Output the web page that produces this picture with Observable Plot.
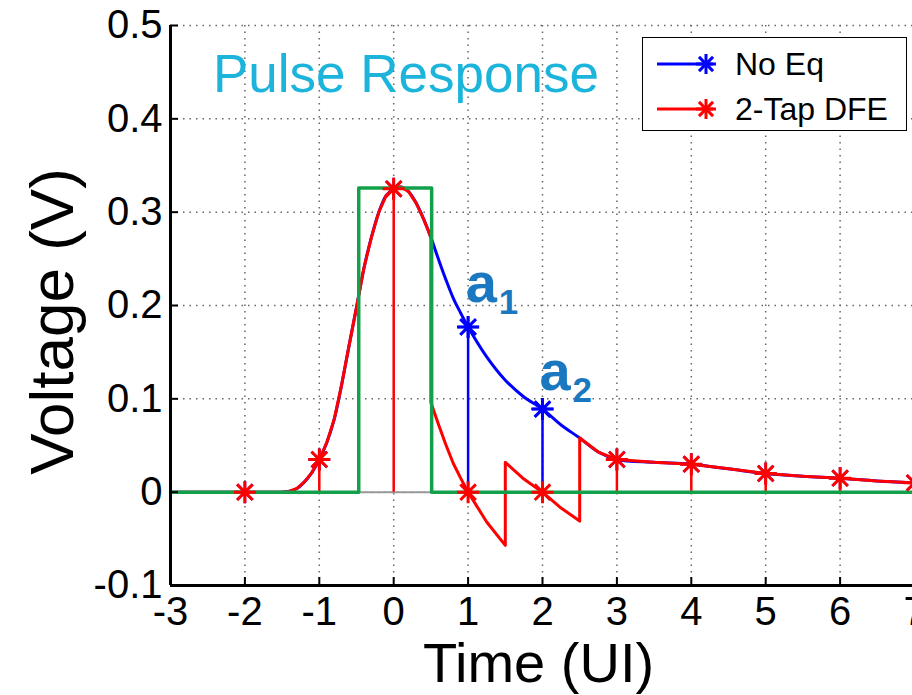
<!DOCTYPE html>
<html>
<head>
<meta charset="utf-8">
<script src="https://cdn.jsdelivr.net/npm/d3@7"></script>
<script src="https://cdn.jsdelivr.net/npm/@observablehq/plot@0.6"></script>
<style>
  html, body { margin: 0; padding: 0; background: #fff; }
  #wrap { position: relative; width: 912px; height: 695px; overflow: hidden; }
  #title { position: absolute; left: 213px; top: 43px; font: 53px "Liberation Sans", Arial, sans-serif; color: #1db4dc; white-space: nowrap; }
  #legend { position: absolute; left: 642px; top: 37px; width: 263px; height: 92px; border: 1.5px solid #000; background: #fff; }
</style>
</head>
<body>
<div id="wrap">
  <div id="chart"></div>
  <div id="title">Pulse Response</div>
  <div id="legend"></div>
</div>
<script>
// ---- data ----
const xTicks = [-3, -2, -1, 0, 1, 2, 3, 4, 5, 6, 7];
const yTicks = [-0.1, 0, 0.1, 0.2, 0.3, 0.4, 0.5];
const yTickLabels = ["-0.1", "0", "0.1", "0.2", "0.3", "0.4", "0.5"];

// continuous pulse response without equalization
const noEqT = [-3, -2, -1.5, -1.4, -1.3, -1.2, -1.1, -1, -0.9, -0.8, -0.7, -0.6, -0.5, -0.4, -0.3, -0.2, -0.1, 0, 0.1, 0.2, 0.3, 0.4, 0.5, 0.6, 0.7, 0.8, 0.9, 1, 1.25, 1.5, 1.75, 2, 2.25, 2.5, 2.75, 3, 3.5, 4, 4.5, 5, 5.5, 6, 6.5, 7];
const noEqV = [0, 0, 0, 0.001, 0.004, 0.011, 0.021, 0.035, 0.053, 0.078, 0.115, 0.157, 0.198, 0.24, 0.273, 0.3, 0.318, 0.325, 0.327, 0.322, 0.31, 0.293, 0.273, 0.25, 0.228, 0.208, 0.192, 0.177, 0.145, 0.12, 0.102, 0.089, 0.072, 0.058, 0.043, 0.035, 0.032, 0.030, 0.025, 0.020, 0.017, 0.015, 0.012, 0.010];

// pulse response with 2-tap DFE
const dfeT = [-3, -2, -1.5, -1.4, -1.3, -1.2, -1.1, -1, -0.9, -0.8, -0.7, -0.6, -0.5, -0.4, -0.3, -0.2, -0.1, 0, 0.1, 0.2, 0.3, 0.4, 0.5, 0.5, 0.6, 0.7, 0.8, 0.9, 1, 1.25, 1.5, 1.5, 1.75, 2, 2.25, 2.5, 2.5, 2.75, 3, 3.5, 4, 4.5, 5, 5.5, 6, 6.5, 7];
const dfeV = [0, 0, 0, 0.001, 0.004, 0.011, 0.021, 0.035, 0.053, 0.078, 0.115, 0.157, 0.198, 0.24, 0.273, 0.3, 0.318, 0.325, 0.327, 0.322, 0.31, 0.293, 0.273, 0.096, 0.073, 0.051, 0.031, 0.015, 0, -0.032, -0.057, 0.032, 0.014, 0, -0.017, -0.031, 0.058, 0.043, 0.035, 0.032, 0.030, 0.025, 0.020, 0.017, 0.015, 0.012, 0.010];

// sampled points (cursors)
const sampleT = [-2, -1, 0, 1, 2, 3, 4, 5, 6, 7];
const noEqSamples = [0, 0.035, 0.325, 0.177, 0.089, 0.035, 0.030, 0.020, 0.015, 0.010];
const dfeSamples = [0, 0.035, 0.325, 0, 0, 0.035, 0.030, 0.020, 0.015, 0.010];
const noEqStemT = [1, 2];
const noEqStemV = [0.177, 0.089];

// ideal transmitted pulse (green)
const pulseT = [-3, -0.47, -0.47, 0.51, 0.51, 7];
const pulseV = [0, 0, 0.326, 0.326, 0, 0];

// annotations
const annLabels = ["a", "a"];
const annSubs = ["1", "2"];
const annT = [0.97, 1.96];
const annV = [0.204, 0.11];

const seriesNames = ["No Eq", "2-Tap DFE"];
const seriesColors = ["#0000ff", "#ff0000"];
const pulseColor = "#13a04a";
const annColor = "#1a78c0";

// ---- helpers ----
const star = {
  draw(ctx, size) {
    const r = Math.sqrt(size / Math.PI);
    for (let k = 0; k < 4; k++) {
      const a = k * Math.PI / 4;
      const c = Math.cos(a) * r, s = Math.sin(a) * r;
      ctx.moveTo(c, s); ctx.lineTo(-c, -s);
    }
  }
};
const rows = (t, v) => t.map((x, i) => ({t: x, v: v[i]}));
const noEq = rows(noEqT, noEqV);
const dfe = rows(dfeT, dfeV);
const noEqPts = rows(sampleT, noEqSamples);
const dfePts = rows(sampleT, dfeSamples);
const noEqStems = rows(noEqStemT, noEqStemV);
const dfeStems = dfePts.filter(d => d.v !== 0);
const pulse = rows(pulseT, pulseV);
const ann = annT.map((t, i) => ({t, v: annV[i], a: annLabels[i], s: annSubs[i]}));

const font = '"Liberation Sans", Arial, sans-serif';

const chart = Plot.plot({
  width: 912,
  height: 695,
  marginLeft: 170,
  marginRight: 0,
  marginTop: 25,
  marginBottom: 110,
  style: {fontFamily: font, fontSize: "40px", color: "#000", background: "#fff", overflow: "visible"},
  x: {domain: [-3, 7], range: [170, 914]},
  y: {domain: [-0.1, 0.5], range: [585, 25]},
  marks: [
    Plot.gridX(xTicks, {stroke: "#666", strokeOpacity: 1, strokeWidth: 1.5, strokeDasharray: "1.5,5"}),
    Plot.gridY(yTicks, {stroke: "#666", strokeOpacity: 1, strokeWidth: 1.5, strokeDasharray: "1.5,5"}),
    Plot.ruleY([0], {stroke: "#999", strokeWidth: 2}),
    Plot.line(noEq, {x: "t", y: "v", stroke: seriesColors[0], strokeWidth: 3, curve: "catmull-rom"}),
    Plot.ruleX(noEqStems, {x: "t", y1: 0, y2: "v", stroke: seriesColors[0], strokeWidth: 2.5}),
    Plot.dot(noEqPts, {x: "t", y: "v", symbol: star, r: 11, stroke: seriesColors[0], strokeWidth: 2.5}),
    Plot.line(dfe, {x: "t", y: "v", stroke: seriesColors[1], strokeWidth: 3}),
    Plot.ruleX(dfeStems, {x: "t", y1: 0, y2: "v", stroke: seriesColors[1], strokeWidth: 2.5}),
    Plot.line(pulse, {x: "t", y: "v", stroke: pulseColor, strokeWidth: 3.5}),
    Plot.dot(dfePts, {x: "t", y: "v", symbol: star, r: 11, stroke: seriesColors[1], strokeWidth: 3}),
    Plot.dot(noEqPts.filter(d => d.t === 1 || d.t === 2), {x: "t", y: "v", symbol: star, r: 11, stroke: seriesColors[0], strokeWidth: 3}),
    Plot.text(ann, {x: "t", y: "v", text: "a", textAnchor: "start", fill: annColor, fontSize: 56, fontWeight: "bold", lineAnchor: "bottom"}),
    Plot.text(ann, {x: "t", y: "v", text: "s", textAnchor: "start", fill: annColor, fontSize: 35, fontWeight: "bold", lineAnchor: "bottom", dx: 33, dy: 12}),
    Plot.ruleX([-3], {stroke: "#000", strokeWidth: 3}),
    Plot.ruleY([-0.1], {stroke: "#000", strokeWidth: 3}),
    Plot.axisX({ticks: xTicks, tickSize: -8, tickPadding: 19, tickFormat: d => String(d), stroke: "#000", strokeWidth: 2, label: null}),
    Plot.axisY({ticks: yTicks, tickSize: -8, tickPadding: 16, tickFormat: (d, i) => yTickLabels[i], stroke: "#000", strokeWidth: 2, label: null}),
    Plot.text(["Time (UI)"], {frameAnchor: "bottom", textAnchor: "middle", dx: -3, dy: 96, fontSize: 56, lineAnchor: "bottom", fill: "#000"}),
    Plot.text(["Voltage (V)"], {frameAnchor: "left", textAnchor: "middle", lineAnchor: "bottom", dx: -98, dy: 16, rotate: -90, fontSize: 62, fill: "#000"})
  ]
});
document.getElementById("chart").appendChild(chart);

// legend
const lg = d3.select("#legend").append("svg").attr("width", 263).attr("height", 92);
seriesNames.forEach((name, i) => {
  const y = 26 + i * 45;
  lg.append("line").attr("x1", 14).attr("x2", 70).attr("y1", y).attr("y2", y)
    .attr("stroke", seriesColors[i]).attr("stroke-width", 3);
  const g = lg.append("g").attr("transform", `translate(63,${y})`);
  for (let k = 0; k < 4; k++) {
    const a = k * Math.PI / 4, r = 10;
    g.append("line").attr("x1", Math.cos(a) * r).attr("y1", Math.sin(a) * r)
      .attr("x2", -Math.cos(a) * r).attr("y2", -Math.sin(a) * r)
      .attr("stroke", seriesColors[i]).attr("stroke-width", 3);
  }
  lg.append("text").attr("x", 92).attr("y", y).attr("dy", "0.35em")
    .attr("font-family", font).attr("font-size", 32).attr("fill", "#000").text(name);
});
</script>
</body>
</html>
